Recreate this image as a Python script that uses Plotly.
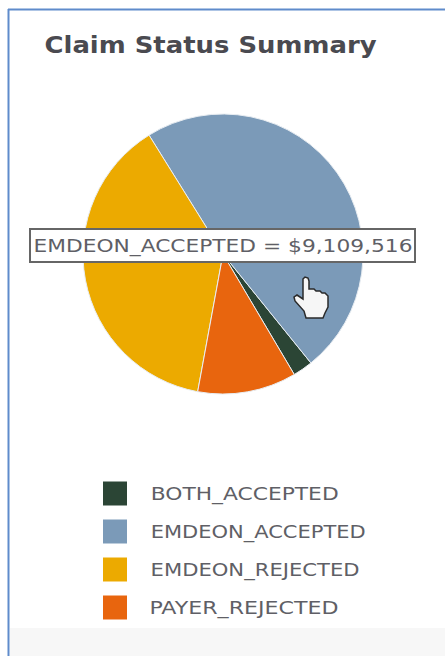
import json
import plotly.graph_objects as go

W, H = 445, 656
TITLE = "Claim Status Summary"
labels = ["BOTH_ACCEPTED", "EMDEON_ACCEPTED", "EMDEON_REJECTED", "PAYER_REJECTED"]
values = [437000, 9109516, 7250000, 2160000]
colors = ["#2b4535", "#7b9ab8", "#ecaa00", "#e8650e"]
TOOLTIP = "EMDEON_ACCEPTED = $9,109,516"

# horizontal extents of the (stretched) text in the picture: left, right
TITLE_SPAN = (44, 376)
TOOLTIP_SPAN = (33, 412)
LABEL_SPANS = [(150, 338), (150, 365), (150, 359), (150, 339)]


def fx(x):
    return x / W


def fy(y):
    return 1 - y / H


def P(points):
    return "M" + "L".join(f"{fx(x):.5f},{fy(y):.5f}" for x, y in points) + "Z"


FONT = "Verdana, DejaVu Sans, sans-serif"
TEXT = "#5f5f66"

fig = go.Figure(
    go.Pie(
        labels=labels,
        values=values,
        sort=False,
        direction="counterclockwise",
        rotation=141.1,
        textinfo="none",
        hoverinfo="label+value",
        marker=dict(colors=colors, line=dict(color="#e8edf2", width=1)),
        domain=dict(x=[fx(83), fx(363)], y=[fy(394), fy(114)]),
        showlegend=False,
    )
)

shapes = [
    # panel frame and footer band
    dict(type="rect", x0=fx(10), x1=1, y0=0, y1=fy(628), fillcolor="#f7f7f7", line_width=0, layer="below"),
    dict(type="line", x0=fx(8.5), x1=fx(8.5), y0=0, y1=fy(9), line=dict(color="#5f8bcb", width=2)),
    dict(type="line", x0=fx(8), x1=1, y0=fy(9.5), y1=fy(9.5), line=dict(color="#5f8bcb", width=2)),
    # tooltip box
    dict(type="rect", x0=fx(30), x1=fx(415), y0=fy(262), y1=fy(229), fillcolor="white", line=dict(color="#666666", width=2), layer="above"),
]


def note(text, span, y, size, color, weight=400):
    return dict(text=text, x=fx(sum(span) / 2), y=fy(y), xref="paper", yref="paper", xanchor="center", yanchor="middle",
                showarrow=False, font=dict(family=FONT, size=size, color=color, weight=weight))


annotations = [
    note(TITLE, TITLE_SPAN, 45, 23, "#4a4a50", 700),
    note(TOOLTIP, TOOLTIP_SPAN, 245.5, 18, TEXT),
]
spans = [TITLE_SPAN, TOOLTIP_SPAN]

for i, (lab, col, span) in enumerate(zip(labels, colors, LABEL_SPANS)):
    yc = 493.5 + i * 38
    shapes.append(dict(type="rect", x0=fx(103), x1=fx(127), y0=fy(yc + 12), y1=fy(yc - 12), fillcolor=col, line_width=0))
    annotations.append(note(lab, span, yc, 18, TEXT))
    spans.append(span)

# pointer cursor
hand = [(303, 279), (305, 277), (308, 278), (309, 281), (309, 289), (314, 289), (316, 291), (320, 291), (322, 293),
        (325, 293), (328, 296), (328, 307), (325, 313), (323, 318), (306, 318), (304, 311), (295, 301), (294, 297),
        (297, 295), (303, 299)]
shapes.append(dict(type="path", path=P(hand), fillcolor="#f6f6f6", line=dict(color="#2a2a2a", width=1.5), layer="above"))

fig.update_layout(
    width=W, height=H, margin=dict(l=0, r=0, t=0, b=0),
    paper_bgcolor="white", plot_bgcolor="white",
    shapes=shapes, annotations=annotations,
)
widths = json.dumps([b - a for a, b in spans])
post = (
    "document.body.style.margin='0';"
    f"var w={widths};"
    "document.querySelectorAll('.annotation-text').forEach(function(t,i){"
    "t.setAttribute('textLength',w[i]);t.setAttribute('lengthAdjust','spacingAndGlyphs');});"
)
fig.write_html("out.html", post_script=post, config=dict(displayModeBar=False))
